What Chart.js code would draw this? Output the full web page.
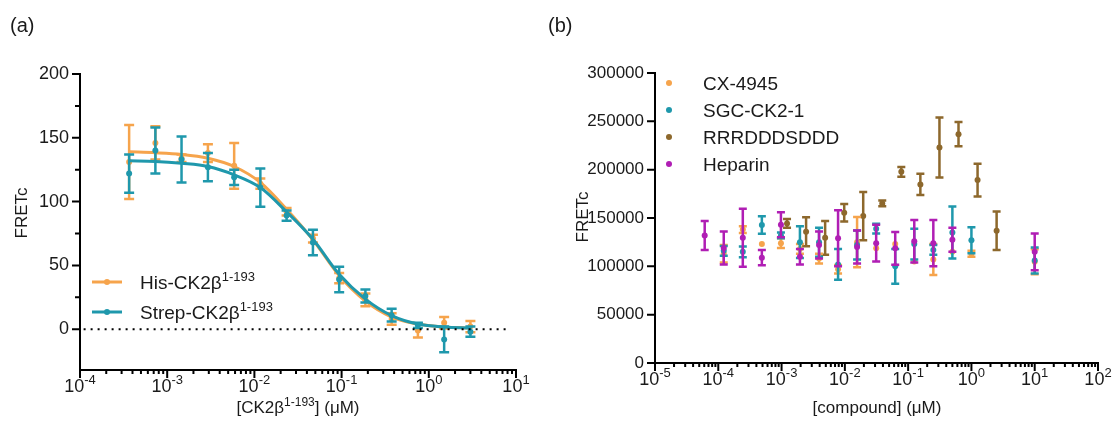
<!DOCTYPE html>
<html>
<head>
<meta charset="utf-8">
<script src="https://cdn.jsdelivr.net/npm/chart.js@4.4.1/dist/chart.umd.min.js"></script>
<style>
  html, body { margin: 0; padding: 0; background: #fff; }
  .panel { position: absolute; top: 0; height: 425px; }
  #wrapA { left: 0; width: 540px; }
  #wrapB { left: 540px; width: 574px; }
</style>
</head>
<body>
<div class="panel" id="wrapA"><canvas id="chartA"></canvas></div>
<div class="panel" id="wrapB"><canvas id="chartB"></canvas></div>
<script>
const FONT = '"Liberation Sans", Arial, sans-serif';
const INK = '#1a1a1a';
const ORANGE = '#F6A44C';
const TEAL = '#1F98AC';
const BROWN = '#8D682C';
const MAGENTA = '#B01EB4';

// ---- panel (a): CK2beta titration ----
const concA = [3.66e-4, 7.32e-4, 1.46e-3, 2.93e-3, 5.86e-3, 0.0117, 0.0234, 0.0469, 0.0938, 0.1875, 0.375, 0.75, 1.5, 3];
const hisMean = [131, 146, 134, 138, 128, 114, 92, 71, 40, 23, 8, -1, 5, 2];
const hisErr = [29, 13, 3, 7, 18, 4, 3, 3, 4, 5, 4.5, 5.5, 4.5, 4.5];
const strepMean = [122, 140, 133, 127, 119, 111, 89, 68, 39, 26, 11, 3, -8, -2];
const strepErr = [15, 18, 18, 11, 6, 15, 4, 10, 10, 5, 5, 2, 10, 4];
const hisFit = [139, 138.3, 137, 134, 127.5, 115, 94, 70, 42, 22, 9.5, 4, 1.7, 0.9];
const strepFit = [132, 131.5, 130, 127.5, 121, 111, 92, 70.5, 43, 23.5, 10.6, 4, 1.7, 0.9];
const zeroLineX = [1.1e-4, 8];
const yTicksA = [0, 50, 100, 150, 200];
const yMinorA = [25, 75, 125, 175];
const xDecadesA = [-4, -3, -2, -1, 0, 1];

// ---- panel (b): compounds ----
const concB = [6.1e-5, 1.22e-4, 2.44e-4, 4.88e-4, 9.77e-4, 1.95e-3, 3.91e-3, 7.81e-3, 0.0156, 0.03125, 0.0625, 0.125, 0.25, 0.5, 1, 10];
const cxMean = [null, 113000, 138000, 123000, 124000, 118000, 108000, 97000, 125000, 118600, 123000, 105000, 107000, 115000, 113000, 104700];
const cxErr = [null, 9000, 3500, null, 5000, 5000, 5000, 4500, 26000, null, null, null, 16000, null, 3000, 13000];
const sgcMean = [null, 116000, 115000, 142700, 132000, 125000, 125000, 102000, 122000, 139000, 100000, 123000, 117000, 135000, 127000, 106000];
const sgcErr = [null, 5000, 5500, 9000, 3000, 16500, 15000, 16000, 15000, 5000, 18000, 16000, 5000, 27000, 13500, 13500];
const hepMean = [132000, 119000, 129500, 109000, 143000, 110000, 122000, 129000, 120000, 124000, 118600, 126000, 124000, 127500, null, 115000];
const hepErr = [15000, 17000, 30000, 8000, 13000, 8000, 14000, 29000, 17000, 19000, 17000, 22000, 24000, 12500, null, 19000];
const concPep = [1.22e-3, 2.44e-3, 4.88e-3, 9.77e-3, 0.0195, 0.039, 0.078, 0.156, 0.3125, 0.625, 1.25, 2.5];
const pepMean = [144400, 135700, 129500, 155400, 152000, 165100, 197800, 184700, 223000, 236700, 189200, 136800];
const pepErr = [4500, 15000, 17500, 9000, 25000, 3000, 5000, 11000, 31000, 12500, 17000, 20000];
const yTicksB = [0, 50000, 100000, 150000, 200000, 250000, 300000];
const xDecadesB = [-5, -4, -3, -2, -1, 0, 1, 2];

const pts = (xs, ys) => xs.map((x, i) => ({ x, y: ys[i] }));

// text with superscript parts: [[text, isSup], ...], y is baseline
function drawRich(ctx, parts, x, y, align, size) {
  const supSize = Math.round(size * 0.7);
  let w = 0;
  parts.forEach(([t, sup]) => {
    ctx.font = (sup ? supSize : size) + 'px ' + FONT;
    w += ctx.measureText(t).width;
  });
  let cx = align === 'center' ? x - w / 2 : (align === 'right' ? x - w : x);
  ctx.textAlign = 'left';
  ctx.textBaseline = 'alphabetic';
  parts.forEach(([t, sup]) => {
    ctx.font = (sup ? supSize : size) + 'px ' + FONT;
    ctx.fillText(t, cx, sup ? y - size * 0.42 : y);
    cx += ctx.measureText(t).width;
  });
}

const errorBars = {
  id: 'errorBars',
  beforeDatasetDraw(chart, args) {
    const ds = chart.data.datasets[args.index];
    if (!ds.errors) return;
    const xs = chart.scales.x, ys = chart.scales.y, ctx = chart.ctx;
    ctx.save();
    ctx.strokeStyle = ds.borderColor;
    ctx.lineWidth = ds.errWidth;
    ds.data.forEach((p, i) => {
      const e = ds.errors[i];
      if (p.y == null || e == null) return;
      const px = xs.getPixelForValue(p.x);
      const top = ys.getPixelForValue(p.y + e);
      const bot = ys.getPixelForValue(p.y - e);
      const c = ds.capHalf;
      ctx.beginPath();
      ctx.moveTo(px, top); ctx.lineTo(px, bot);
      ctx.moveTo(px - c, top); ctx.lineTo(px + c, top);
      ctx.moveTo(px - c, bot); ctx.lineTo(px + c, bot);
      ctx.stroke();
    });
    ctx.restore();
  }
};

function drawAxes(chart, decades, yMajor, yMinor, tickSize) {
  const ctx = chart.ctx, xs = chart.scales.x, ys = chart.scales.y;
  const area = chart.chartArea;
  ctx.save();
  ctx.strokeStyle = '#000';
  ctx.lineWidth = 2;
  ctx.beginPath();
  decades.forEach((d, k) => {
    const mults = k === decades.length - 1 ? [1] : [1, 2, 3, 4, 5, 6, 7, 8, 9];
    mults.forEach(m => {
      const px = xs.getPixelForValue(m * Math.pow(10, d));
      ctx.moveTo(px, area.bottom);
      ctx.lineTo(px, area.bottom + (m === 1 ? 8 : 4));
    });
  });
  yMajor.forEach(v => {
    const py = ys.getPixelForValue(v);
    ctx.moveTo(area.left, py); ctx.lineTo(area.left - 8, py);
  });
  yMinor.forEach(v => {
    const py = ys.getPixelForValue(v);
    ctx.moveTo(area.left, py); ctx.lineTo(area.left - 5, py);
  });
  ctx.stroke();
  ctx.fillStyle = INK;
  decades.forEach(d => {
    const px = xs.getPixelForValue(Math.pow(10, d));
    drawRich(ctx, [['10', false], [String(d), true]], px, area.bottom + 22, 'center', tickSize);
  });
  ctx.restore();
}

function drawYTitle(ctx, text, x, y, size) {
  ctx.save();
  ctx.translate(x, y);
  ctx.rotate(-Math.PI / 2);
  ctx.fillStyle = INK;
  ctx.font = size + 'px ' + FONT;
  ctx.textAlign = 'center';
  ctx.textBaseline = 'middle';
  ctx.fillText(text, 0, 0);
  ctx.restore();
}

function drawPanelLabel(ctx, text, x, y) {
  ctx.save();
  ctx.fillStyle = INK;
  ctx.font = '20px ' + FONT;
  ctx.textAlign = 'left';
  ctx.textBaseline = 'middle';
  ctx.fillText(text, x, y);
  ctx.restore();
}

const decoA = {
  id: 'decoA',
  afterDraw(chart) {
    const ctx = chart.ctx;
    drawAxes(chart, xDecadesA, yTicksA, yMinorA, 18);
    drawYTitle(ctx, 'FRETc', 22, 213, 17);
    ctx.fillStyle = INK;
    drawRich(ctx, [['[CK2β', false], ['1-193', true], ['] (μM)', false]], 298, 413, 'center', 17);
    drawPanelLabel(ctx, '(a)', 10, 26);
    // legend
    const rows = [[ORANGE, 'His-CK2β', 282], [TEAL, 'Strep-CK2β', 312]];
    rows.forEach(([col, label, y]) => {
      ctx.save();
      ctx.strokeStyle = col; ctx.lineWidth = 3;
      ctx.beginPath(); ctx.moveTo(92, y); ctx.lineTo(122, y); ctx.stroke();
      ctx.fillStyle = col;
      ctx.beginPath(); ctx.arc(107, y, 3, 0, Math.PI * 2); ctx.fill();
      ctx.fillStyle = INK;
      drawRich(ctx, [[label, false], ['1-193', true]], 140, y + 7, 'left', 19);
      ctx.restore();
    });
  }
};

const decoB = {
  id: 'decoB',
  afterDraw(chart) {
    const ctx = chart.ctx;
    drawAxes(chart, xDecadesB, yTicksB, [], 18);
    drawYTitle(ctx, 'FRETc', 43, 217, 17);
    ctx.fillStyle = INK;
    drawRich(ctx, [['[compound] (μM)', false]], 337, 413, 'center', 17);
    drawPanelLabel(ctx, '(b)', 8, 26);
    const rows = [[ORANGE, 'CX-4945'], [TEAL, 'SGC-CK2-1'], [BROWN, 'RRRDDDSDDD'], [MAGENTA, 'Heparin']];
    rows.forEach(([col, label], i) => {
      const y = 83 + i * 27;
      ctx.save();
      ctx.fillStyle = col;
      ctx.beginPath(); ctx.arc(129, y, 3, 0, Math.PI * 2); ctx.fill();
      ctx.fillStyle = INK;
      drawRich(ctx, [[label, false]], 163, y + 7, 'left', 19);
      ctx.restore();
    });
  }
};

function pointSet(xs, ys, errs, color, capHalf) {
  return {
    data: pts(xs, ys), showLine: false,
    pointRadius: 3, pointBackgroundColor: color, pointBorderColor: color, pointBorderWidth: 0,
    borderColor: color, errors: errs, capHalf: capHalf, errWidth: 2.5
  };
}

function fitSet(xs, ys, color) {
  return {
    data: pts(xs, ys), borderColor: color, borderWidth: 3,
    pointRadius: 0, cubicInterpolationMode: 'monotone', fill: false
  };
}

function scales(xMin, xMax, yMin, yMax, yTicks, yWidth, xHeight, tickSize) {
  return {
    x: {
      type: 'logarithmic', min: xMin, max: xMax,
      ticks: { display: false },
      grid: { display: false },
      border: { display: true, color: '#000', width: 2 },
      afterFit: s => { s.height = xHeight; }
    },
    y: {
      type: 'linear', min: yMin, max: yMax,
      afterBuildTicks: s => { s.ticks = yTicks.map(v => ({ value: v })); },
      ticks: {
        color: INK, font: { family: FONT, size: tickSize }, padding: 3,
        autoSkip: false, maxRotation: 0, callback: v => String(v)
      },
      grid: { display: false, drawTicks: true, tickLength: 8 },
      border: { display: true, color: '#000', width: 2 },
      afterFit: s => { s.width = yWidth; }
    }
  };
}

const common = {
  responsive: true,
  maintainAspectRatio: false,
  animation: false,
  plugins: { legend: { display: false }, tooltip: { enabled: false } }
};

new Chart(document.getElementById('chartA'), {
  type: 'line',
  data: {
    datasets: [
      { data: pts(zeroLineX, [0, 0]), borderColor: '#000', borderWidth: 2, borderDash: [2, 5], pointRadius: 0 },
      pointSet(concA, strepMean, strepErr, TEAL, 5),
      fitSet(concA, strepFit, TEAL),
      pointSet(concA, hisMean, hisErr, ORANGE, 5),
      fitSet(concA, hisFit, ORANGE)
    ]
  },
  options: Object.assign({}, common, {
    layout: { padding: { left: 0, right: 24, top: 74, bottom: 0 } },
    scales: scales(1e-4, 10, -32, 200, yTicksA, 80, 55, 18)
  }),
  plugins: [errorBars, decoA]
});

new Chart(document.getElementById('chartB'), {
  type: 'line',
  data: {
    datasets: [
      pointSet(concB, hepMean, hepErr, MAGENTA, 4),
      pointSet(concB, sgcMean, sgcErr, TEAL, 4),
      pointSet(concB, cxMean, cxErr, ORANGE, 4),
      pointSet(concPep, pepMean, pepErr, BROWN, 4)
    ]
  },
  options: Object.assign({}, common, {
    layout: { padding: { left: 0, right: 16, top: 73, bottom: 0 } },
    scales: scales(1e-5, 100, 0, 300000, yTicksB, 115, 62, 17)
  }),
  plugins: [errorBars, decoB]
});
</script>
</body>
</html>
